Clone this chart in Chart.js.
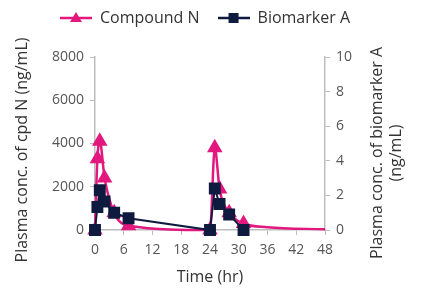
<!DOCTYPE html>
<html>
<head>
<meta charset="utf-8">
<script src="https://cdn.jsdelivr.net/npm/chart.js@4.4.1/dist/chart.umd.min.js"></script>
<style>
  html, body { margin: 0; padding: 0; background: #fff; }
  #wrap { width: 427px; height: 299px; position: relative; }
</style>
</head>
<body>
<div id="wrap"><canvas id="pkChart"></canvas></div>
<script>
// ---- data ----
const timeN = [0, 0.5, 1, 2, 4, 7, 24, 25, 26, 28, 31, 36, 48];
const compoundN = [0, 3300, 4100, 2400, 800, 200, 0, 3800, 1900, 800, 300, 130, 30];

const timeA = [0, 0.5, 1, 2, 4, 7, 24, 25, 26, 28, 31];
const biomarkerA = [0, 1.33, 2.3, 1.65, 1.0, 0.68, 0, 2.4, 1.5, 0.9, 0];

const xTicks = [0, 6, 12, 18, 24, 30, 36, 42, 48];
const leftTicks = [0, 2000, 4000, 6000, 8000];
const rightTicks = [0, 2, 4, 6, 8, 10];

const PINK = '#E2187F';
const NAVY = '#0E1A3E';
const AXIS = '#BDBDBD';
const FONT = "'Open Sans', sans-serif";

// legend swatch: line + marker
function swatch(color, kind) {
  const c = document.createElement('canvas');
  c.width = 32; c.height = 14;
  const g = c.getContext('2d');
  g.strokeStyle = color; g.lineWidth = 2.5;
  g.beginPath(); g.moveTo(0, 7); g.lineTo(32, 7); g.stroke();
  g.fillStyle = color;
  g.beginPath();
  if (kind === 'tri') {
    g.moveTo(16, 1); g.lineTo(22, 11); g.lineTo(10, 11);
  } else {
    g.rect(11, 2, 10, 10);
  }
  g.fill();
  return c;
}

// legend placement + both axis titles (reading bottom-to-top)
const axisTitles = {
  id: 'axisTitles',
  afterInit(chart) {
    const lg = chart.legend;
    const fit = lg.fit;
    lg.fit = function () { fit.call(this); this.height += 11; };
  },
  afterLayout(chart) {
    chart.legend.left = 42;
    chart.legend.top = -8;
  },
  afterDraw(chart) {
    const { ctx } = chart;
    ctx.save();
    ctx.fillStyle = '#333';
    ctx.font = "16px " + FONT;
    ctx.textAlign = 'center';
    ctx.textBaseline = 'middle';
    ctx.translate(22, 150);
    ctx.rotate(-Math.PI / 2);
    ctx.fillText('Plasma conc. of cpd N (ng/mL)', 0, 0);
    ctx.restore();

    ctx.save();
    ctx.fillStyle = '#333';
    ctx.font = "16px " + FONT;
    ctx.textAlign = 'center';
    ctx.textBaseline = 'middle';
    ctx.translate(377, 153);
    ctx.rotate(-Math.PI / 2);
    ctx.fillText('Plasma conc. of biomarker A', 0, 0);
    ctx.fillText('(ng/mL)', 0, 19);
    ctx.restore();
  }
};

const plain = (v) => String(v);

new Chart(document.getElementById('pkChart'), {
  type: 'line',
  data: {
    datasets: [
      {
        label: 'Compound N',
        data: timeN.map((t, i) => ({ x: t, y: compoundN[i] })),
        yAxisID: 'yN',
        borderColor: PINK,
        backgroundColor: PINK,
        borderWidth: 2.5,
        pointStyle: 'triangle',
        pointRadius: timeN.map(t => (t > 31 ? 0 : 6.5)),
        cubicInterpolationMode: 'monotone',
        clip: false,
        order: 2
      },
      {
        label: 'Biomarker A',
        data: timeA.map((t, i) => ({ x: t, y: biomarkerA[i] })),
        yAxisID: 'yA',
        borderColor: NAVY,
        backgroundColor: NAVY,
        borderWidth: 2,
        pointStyle: 'rect',
        pointRadius: 7,
        tension: 0,
        clip: false,
        order: 1
      }
    ]
  },
  options: {
    responsive: true,
    maintainAspectRatio: false,
    animation: false,
    layout: { padding: { left: 10, right: 0, top: 2, bottom: 8 } },
    plugins: {
      tooltip: { enabled: false },
      legend: {
        position: 'top',
        align: 'start',
        labels: {
          color: '#333',
          font: { family: FONT, size: 16 },
          usePointStyle: true,
          pointStyleWidth: 32,
          padding: 18,
          generateLabels: () => [
            { text: 'Compound N', pointStyle: swatch(PINK, 'tri'), fontColor: '#333', datasetIndex: 0, lineWidth: 0, strokeStyle: 'transparent', fillStyle: PINK },
            { text: 'Biomarker A', pointStyle: swatch(NAVY, 'sq'), fontColor: '#333', datasetIndex: 1, lineWidth: 0, strokeStyle: 'transparent', fillStyle: NAVY }
          ]
        }
      }
    },
    scales: {
      x: {
        type: 'linear',
        min: 0,
        max: 48,
        afterBuildTicks: (axis) => { axis.ticks = xTicks.map(v => ({ value: v })); },
        grid: { drawOnChartArea: false, color: AXIS, tickLength: 5 },
        border: { color: AXIS, width: 1.5 },
        ticks: { color: '#555', font: { family: FONT, size: 14 }, padding: 7, callback: plain },
        title: { display: true, text: 'Time (hr)', color: '#333', font: { family: FONT, size: 16 }, padding: { top: 2 } }
      },
      yN: {
        position: 'left',
        min: 0,
        max: 8000,
        afterBuildTicks: (axis) => { axis.ticks = leftTicks.map(v => ({ value: v })); },
        grid: { drawOnChartArea: false, color: AXIS, tickLength: 5 },
        border: { color: AXIS, width: 1.5 },
        ticks: { color: '#555', font: { family: FONT, size: 14 }, padding: 6, callback: plain },
        afterFit: (axis) => { axis.width = 85; }
      },
      yA: {
        position: 'right',
        min: 0,
        max: 10,
        afterBuildTicks: (axis) => { axis.ticks = rightTicks.map(v => ({ value: v })); },
        grid: { drawOnChartArea: false, color: AXIS, tickLength: 5 },
        border: { color: AXIS, width: 1.5 },
        ticks: { color: '#555', font: { family: FONT, size: 14 }, padding: 6, callback: plain },
        afterFit: (axis) => { axis.width = 102; }
      }
    }
  },
  plugins: [axisTitles]
});
</script>
</body>
</html>
